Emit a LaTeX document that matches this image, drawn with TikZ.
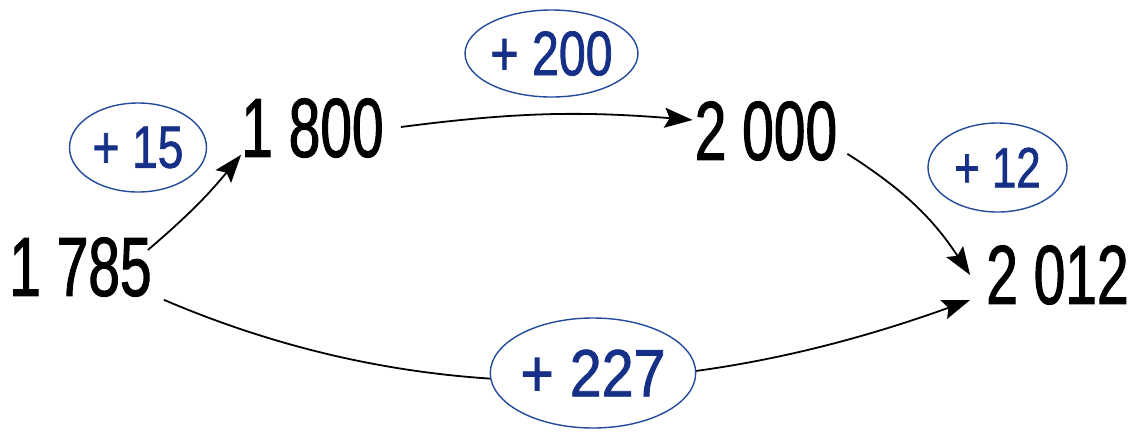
\documentclass[tikz,border=0pt]{standalone}
\usepackage{fontspec}
\usetikzlibrary{shapes.geometric,arrows.meta,calc}
\newfontfamily\numfont[FakeStretch=0.68,FakeBold=1.2]{Liberation Sans}
\newfontfamily\addfont[FakeStretch=0.77,FakeBold=1.2]{Liberation Sans}
\newfontfamily\addwidefont[FakeStretch=0.86,FakeBold=1.2]{Liberation Sans}
\definecolor{addblue}{RGB}{22,48,135}
\definecolor{ringblue}{RGB}{35,75,155}
\begin{document}
\begin{tikzpicture}[x=1bp,y=-1bp,
  num/.style={inner sep=0pt, text=black, font=\numfont\fontsize{84}{84}\selectfont},
  add/.style={shape=ellipse, draw=ringblue, line width=1.4bp, fill=white, inner sep=0pt, text=addblue, font=\addfont\fontsize{60}{60}\selectfont},
  link/.style={line width=1.8bp, draw=black, -{Stealth[length=28bp,width=20bp,inset=5bp]}}]
\useasboundingbox[fill=white] (0,0) rectangle (1142,431);
% numbers
\node[num] (a) at (80.5,267) {1 785};
\node[num] (b) at (312.5,128) {1 800};
\node[num] (c) at (766,131) {2 000};
\node[num] (d) at (1057.5,275) {2 012};
% added amounts
\node[add, minimum width=137bp, minimum height=89bp] (p15) at (138,147.5) {+ 15};
\node[add, minimum width=137bp, minimum height=87bp, font=\addfont\fontsize{63}{63}\selectfont] (p200) at (551.5,53.5) {+ 200};
\node[add, minimum width=139bp, minimum height=89bp, font=\addfont\fontsize{57}{57}\selectfont] (p12) at (997.5,167.5) {+ 12};
% connectors
\draw[link] ($(a.east)+(-4,-17)$) to[bend right=5] ($(b.south west)+(0,-3)$);
\draw[link] ($(b.east)+(17,-1)$) to[bend left=6] ($(c.west)+(-2,-11)$);
\draw[link] ($(c.south east)+(10,-7)$) to[bend left=12] ($(d.west)+(-16,0)$);
\draw[link] ($(a.south east)+(12,3)$) .. controls (450,422) and (720,390) .. ($(d.west)+(-16,25)$);
\node[add, minimum width=190bp, minimum height=110bp, font=\addwidefont\fontsize{67}{67}\selectfont] (p227) at (593,373) {+ 227};
\end{tikzpicture}
\end{document}
